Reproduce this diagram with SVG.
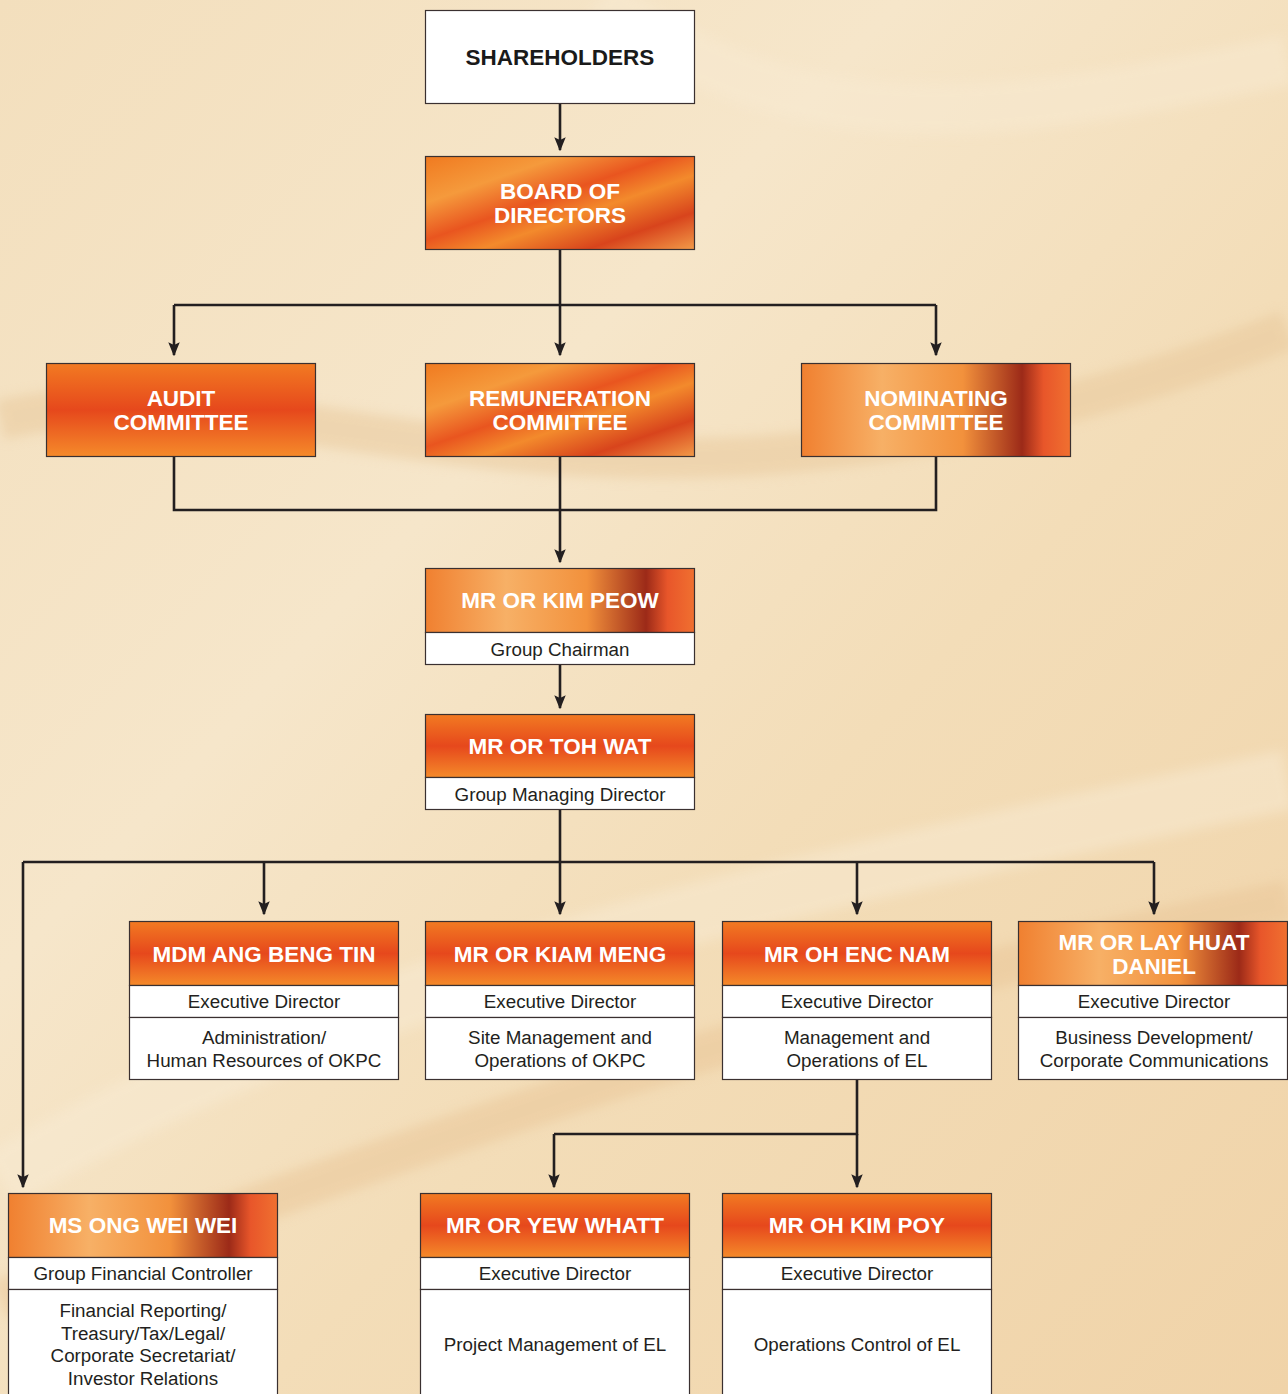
<svg xmlns="http://www.w3.org/2000/svg" width="1288" height="1394" viewBox="0 0 1288 1394">
<defs>
<linearGradient id="bg" x1="0" y1="0" x2="1" y2="1">
<stop offset="0" stop-color="#f3dfbd"/>
<stop offset="0.35" stop-color="#f6e6ca"/>
<stop offset="0.6" stop-color="#f3ddb8"/>
<stop offset="1" stop-color="#f0d3a8"/>
</linearGradient>
<linearGradient id="org" x1="0" y1="0" x2="1" y2="1">
<stop offset="0" stop-color="#f07a20"/>
<stop offset="0.25" stop-color="#f59a3c"/>
<stop offset="0.45" stop-color="#e9551f"/>
<stop offset="0.6" stop-color="#f38a2c"/>
<stop offset="0.8" stop-color="#d8441c"/>
<stop offset="1" stop-color="#f29a48"/>
</linearGradient>
<linearGradient id="org2" x1="0" y1="0" x2="1" y2="0">
<stop offset="0" stop-color="#f08030"/>
<stop offset="0.3" stop-color="#f7b066"/>
<stop offset="0.6" stop-color="#f2913c"/>
<stop offset="0.82" stop-color="#9c2a18"/>
<stop offset="0.9" stop-color="#e8562a"/>
<stop offset="1" stop-color="#f07030"/>
</linearGradient>
<linearGradient id="org3" x1="0" y1="0" x2="0" y2="1">
<stop offset="0" stop-color="#f27a22"/>
<stop offset="0.5" stop-color="#e6481c"/>
<stop offset="1" stop-color="#f58a2a"/>
</linearGradient>
<marker id="ah" viewBox="0 0 10 10" refX="9" refY="5" markerWidth="5.5" markerHeight="5.5" orient="auto">
<path d="M0,1 L10,5 L0,9 L2,5 Z" fill="#231f20"/>
</marker>
<filter id="blur" x="-10%" y="-50%" width="120%" height="200%"><feGaussianBlur stdDeviation="6"/></filter>
</defs>
<style>
.box{stroke:#3a3030;stroke-width:1.2}
.wh{fill:#ffffff;stroke:#3a3030;stroke-width:1.2}
.t{font-family:"Liberation Sans",Arial,sans-serif;font-weight:bold;font-size:22.5px;fill:#ffffff;text-anchor:middle}
.tk{font-family:"Liberation Sans",Arial,sans-serif;font-weight:bold;font-size:22.5px;fill:#1a1a1a;text-anchor:middle}
.s{font-family:"Liberation Sans",Arial,sans-serif;font-size:18.8px;fill:#231f20;text-anchor:middle}
.ln{fill:none;stroke:#231f20;stroke-width:2.6}
.ar{fill:none;stroke:#231f20;stroke-width:2.6;marker-end:url(#ah)}
</style>
<rect width="1288" height="1394" fill="url(#bg)"/>
<g opacity="0.5" filter="url(#blur)">
<path d="M0,420 C300,350 600,600 1288,330" stroke="#e8c79a" stroke-width="40" fill="none"/>
<path d="M0,1180 C300,1000 700,900 1288,780" stroke="#f8ebd4" stroke-width="60" fill="none"/>
<path d="M0,1300 C400,1150 800,1000 1288,900" stroke="#e9c596" stroke-width="40" fill="none"/>
<path d="M600,0 C800,150 1000,120 1288,60" stroke="#f8ead2" stroke-width="50" fill="none"/>
</g>

<g id="connectors">
<path class="ar" d="M560,103 V150"/>
<path class="ln" d="M560,250 V305 M174,305 H936"/>
<path class="ar" d="M174,305 V355"/>
<path class="ar" d="M560,305 V355"/>
<path class="ar" d="M936,305 V355"/>
<path class="ln" d="M174,457 V510 H936 V457 M560,457 V510"/>
<path class="ar" d="M560,510 V562"/>
<path class="ar" d="M560,665 V708"/>
<path class="ln" d="M560,810 V862 M23,862 H1154"/>
<path class="ar" d="M264,862 V914"/>
<path class="ar" d="M560,862 V914"/>
<path class="ar" d="M857,862 V914"/>
<path class="ar" d="M1154,862 V914"/>
<path class="ar" d="M23,862 V1187"/>
<path class="ln" d="M857,1080 V1134 H554"/>
<path class="ar" d="M554,1134 V1187"/>
<path class="ar" d="M857,1134 V1187"/>
</g>

<g id="shareholders">
<rect class="wh" x="425.5" y="10.5" width="269" height="93"/>
<text class="tk" x="560" y="65">SHAREHOLDERS</text>
</g>
<g id="board">
<rect class="box" x="425.5" y="156.5" width="269" height="93" fill="url(#org)"/>
<text class="t" x="560" y="199">BOARD OF</text>
<text class="t" x="560" y="223">DIRECTORS</text>
</g>
<g id="audit">
<rect class="box" x="46.5" y="363.5" width="269" height="93" fill="url(#org3)"/>
<text class="t" x="181" y="406">AUDIT</text>
<text class="t" x="181" y="430">COMMITTEE</text>
</g>
<g id="remuneration">
<rect class="box" x="425.5" y="363.5" width="269" height="93" fill="url(#org)"/>
<text class="t" x="560" y="406">REMUNERATION</text>
<text class="t" x="560" y="430">COMMITTEE</text>
</g>
<g id="nominating">
<rect class="box" x="801.5" y="363.5" width="269" height="93" fill="url(#org2)"/>
<text class="t" x="936" y="406">NOMINATING</text>
<text class="t" x="936" y="430">COMMITTEE</text>
</g>
<g id="kimpeow">
<rect class="box" x="425.5" y="568.5" width="269" height="64" fill="url(#org2)"/>
<rect class="wh" x="425.5" y="632.5" width="269" height="32"/>
<text class="t" x="560" y="608">MR OR KIM PEOW</text>
<text class="s" x="560" y="656">Group Chairman</text>
</g>
<g id="tohwat">
<rect class="box" x="425.5" y="714.5" width="269" height="63" fill="url(#org3)"/>
<rect class="wh" x="425.5" y="777.5" width="269" height="32"/>
<text class="t" x="560" y="754">MR OR TOH WAT</text>
<text class="s" x="560" y="801">Group Managing Director</text>
</g>
<g id="angbengtin">
<rect class="box" x="129.5" y="921.5" width="269" height="64" fill="url(#org3)"/>
<rect class="wh" x="129.5" y="985.5" width="269" height="32"/>
<rect class="wh" x="129.5" y="1017.5" width="269" height="62"/>
<text class="t" x="264" y="962">MDM ANG BENG TIN</text>
<text class="s" x="264" y="1008">Executive Director</text>
<text class="s" x="264" y="1044">Administration/</text>
<text class="s" x="264" y="1067">Human Resources of OKPC</text>
</g>
<g id="kiammeng">
<rect class="box" x="425.5" y="921.5" width="269" height="64" fill="url(#org3)"/>
<rect class="wh" x="425.5" y="985.5" width="269" height="32"/>
<rect class="wh" x="425.5" y="1017.5" width="269" height="62"/>
<text class="t" x="560" y="962">MR OR KIAM MENG</text>
<text class="s" x="560" y="1008">Executive Director</text>
<text class="s" x="560" y="1044">Site Management and</text>
<text class="s" x="560" y="1067">Operations of OKPC</text>
</g>
<g id="encnam">
<rect class="box" x="722.5" y="921.5" width="269" height="64" fill="url(#org3)"/>
<rect class="wh" x="722.5" y="985.5" width="269" height="32"/>
<rect class="wh" x="722.5" y="1017.5" width="269" height="62"/>
<text class="t" x="857" y="962">MR OH ENC NAM</text>
<text class="s" x="857" y="1008">Executive Director</text>
<text class="s" x="857" y="1044">Management and</text>
<text class="s" x="857" y="1067">Operations of EL</text>
</g>
<g id="layhuat">
<rect class="box" x="1018.5" y="921.5" width="269" height="64" fill="url(#org2)"/>
<rect class="wh" x="1018.5" y="985.5" width="269" height="32"/>
<rect class="wh" x="1018.5" y="1017.5" width="269" height="62"/>
<text class="t" x="1154" y="950">MR OR LAY HUAT</text>
<text class="t" x="1154" y="974">DANIEL</text>
<text class="s" x="1154" y="1008">Executive Director</text>
<text class="s" x="1154" y="1044">Business Development/</text>
<text class="s" x="1154" y="1067">Corporate Communications</text>
</g>
<g id="ongweiwei">
<rect class="box" x="8.5" y="1193.5" width="269" height="64" fill="url(#org2)"/>
<rect class="wh" x="8.5" y="1257.5" width="269" height="32"/>
<rect class="wh" x="8.5" y="1289.5" width="269" height="110"/>
<text class="t" x="143" y="1233">MS ONG WEI WEI</text>
<text class="s" x="143" y="1280">Group Financial Controller</text>
<text class="s" x="143" y="1317">Financial Reporting/</text>
<text class="s" x="143" y="1340">Treasury/Tax/Legal/</text>
<text class="s" x="143" y="1362">Corporate Secretariat/</text>
<text class="s" x="143" y="1385">Investor Relations</text>
</g>
<g id="yewwhatt">
<rect class="box" x="420.5" y="1193.5" width="269" height="64" fill="url(#org3)"/>
<rect class="wh" x="420.5" y="1257.5" width="269" height="32"/>
<rect class="wh" x="420.5" y="1289.5" width="269" height="110"/>
<text class="t" x="555" y="1233">MR OR YEW WHATT</text>
<text class="s" x="555" y="1280">Executive Director</text>
<text class="s" x="555" y="1351">Project Management of EL</text>
</g>
<g id="kimpoy">
<rect class="box" x="722.5" y="1193.5" width="269" height="64" fill="url(#org3)"/>
<rect class="wh" x="722.5" y="1257.5" width="269" height="32"/>
<rect class="wh" x="722.5" y="1289.5" width="269" height="110"/>
<text class="t" x="857" y="1233">MR OH KIM POY</text>
<text class="s" x="857" y="1280">Executive Director</text>
<text class="s" x="857" y="1351">Operations Control of EL</text>
</g>
</svg>
